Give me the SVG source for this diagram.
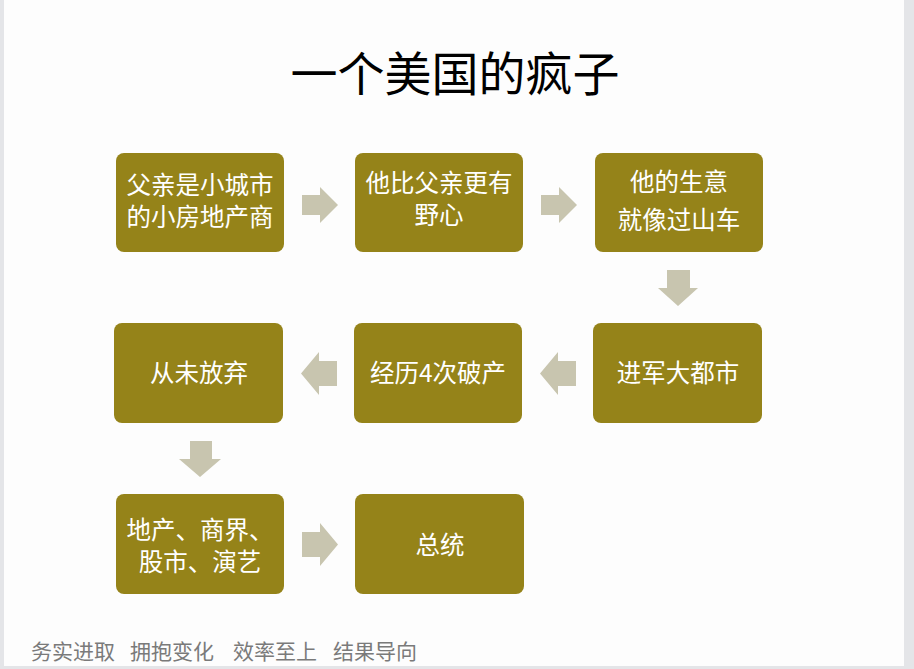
<svg xmlns="http://www.w3.org/2000/svg" width="914" height="669" viewBox="0 0 914 669">
<style>
.box{fill:#958319;}
.arr{fill:#C8C5AF;}
.t{font-family:"Noto Sans CJK SC","Liberation Sans",sans-serif;fill:#ffffff;font-size:24.5px;text-anchor:middle;}
.title{font-family:"Noto Sans CJK SC","Liberation Sans",sans-serif;fill:#000000;font-size:47px;text-anchor:middle;}
.foot{font-family:"Noto Sans CJK SC","Liberation Sans",sans-serif;fill:#7a7a7a;font-size:21px;}
</style>
<rect x="0" y="0" width="914" height="669" fill="#e4e5e8"/>
<rect x="4" y="0" width="900" height="666" fill="#fdfdfd"/>
<text class="title" x="455" y="91">一个美国的疯子</text>
<g id="connectors">
<path class="arr" d="M302,195 H320 V187 L338,205 L320,223 V215 H302 Z"/>
<path class="arr" d="M541,195 H559 V187 L577,205 L559,223 V215 H541 Z"/>
<path class="arr" d="M667,270 H690 V288 H698 L678,306 L658,288 H667 Z"/>
<path class="arr" d="M576,361 H558 V352 L540,373.5 L558,395 V386 H576 Z"/>
<path class="arr" d="M337,361 H319 V352 L301,373.5 L319,395 V386 H337 Z"/>
<path class="arr" d="M190,441 H212 V459 H221 L200,477 L179,459 H190 Z"/>
<path class="arr" d="M302,532 H320 V523 L338,544.5 L320,566 V557 H302 Z"/>
</g>
<g id="n1"><rect class="box" x="116" y="153" width="168" height="99" rx="8"/><text class="t" x="200" y="194">父亲是小城市</text><text class="t" x="200" y="226">的小房地产商</text></g>
<g id="n2"><rect class="box" x="355" y="153" width="168" height="99" rx="8"/><text class="t" x="439" y="192">他比父亲更有</text><text class="t" x="439" y="224">野心</text></g>
<g id="n3"><rect class="box" x="595" y="153" width="168" height="99" rx="8"/><text class="t" x="679" y="191">他的生意</text><text class="t" x="679" y="229">就像过山车</text></g>
<g id="n4"><rect class="box" x="593" y="323" width="169" height="100" rx="8"/><text class="t" x="678" y="382">进军大都市</text></g>
<g id="n5"><rect class="box" x="354" y="323" width="168" height="100" rx="8"/><text class="t" x="438" y="382">经历4次破产</text></g>
<g id="n6"><rect class="box" x="114" y="323" width="169" height="100" rx="8"/><text class="t" x="199" y="382">从未放弃</text></g>
<g id="n7"><rect class="box" x="116" y="494" width="168" height="100" rx="8"/><text class="t" x="200" y="539">地产、商界、</text><text class="t" x="200" y="571">股市、演艺</text></g>
<g id="n8"><rect class="box" x="355" y="494" width="169" height="100" rx="8"/><text class="t" x="440" y="554">总统</text></g>
<text class="foot" x="31" y="659">务实进取</text>
<text class="foot" x="130" y="659">拥抱变化</text>
<text class="foot" x="233" y="659">效率至上</text>
<text class="foot" x="333" y="659">结果导向</text>
</svg>
